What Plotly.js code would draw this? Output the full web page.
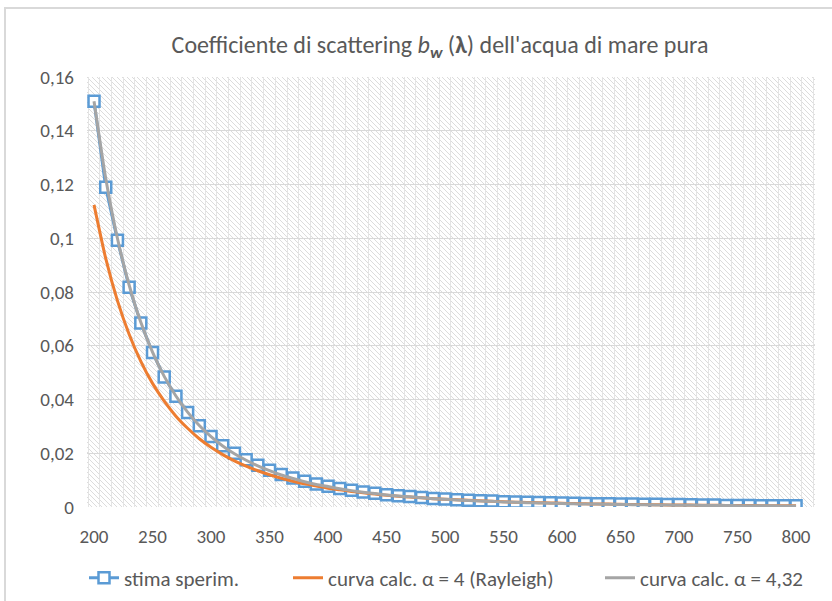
<!DOCTYPE html>
<html>
<head>
<meta charset="utf-8">
<script src="https://cdn.plot.ly/plotly-3.0.1.min.js"></script>
<style>
html,body{margin:0;padding:0;background:#fff;}
#wrap{position:relative;width:832px;height:601px;overflow:hidden;}
#chart{width:832px;height:601px;}
#frame{position:absolute;left:4px;top:7px;width:900px;height:700px;border:2px solid #d9d9d9;pointer-events:none;}
</style>
</head>
<body>
<div id="wrap"><div id="chart"></div><div id="frame"></div></div>
<script>
// wavelengths (nm)
const lambda = [200,210,220,230,240,250,260,270,280,290,300,310,320,330,340,350,360,370,380,390,
400,410,420,430,440,450,460,470,480,490,500,510,520,530,540,550,560,570,580,590,
600,610,620,630,640,650,660,670,680,690,700,710,720,730,740,750,760,770,780,790,800];

// stima sperimentale
const stima = [0.1510,0.1190,0.0993,0.0818,0.0685,0.0575,0.0484,0.0412,0.0352,0.0302,
0.0262,0.0228,0.0200,0.0176,0.0155,0.0137,0.0121,0.0108,0.0096,0.0086,
0.0077,0.0069,0.0062,0.0056,0.0051,0.0046,0.0042,0.0039,0.0035,0.0032,
0.0030,0.0027,0.0025,0.0023,0.0022,0.0020,0.0019,0.0018,0.0017,0.0016,
0.0015,0.0014,0.0013,0.0012,0.0012,0.0011,0.0011,0.0010,0.0010,0.0009,
0.0009,0.0008,0.0007,0.0007,0.0006,0.0006,0.0006,0.0005,0.0005,0.0005,0.0005];

// curva calc. alpha = 4 (Rayleigh)
const rayleigh = [0.1124,0.0925,0.0768,0.0643,0.0542,0.0460,0.0394,0.0338,0.0293,0.0254,
0.0222,0.0195,0.0172,0.0152,0.0135,0.0120,0.0107,0.0096,0.0086,0.0078,
0.0070,0.0064,0.0058,0.0053,0.0048,0.0044,0.0040,0.0037,0.0034,0.0031,
0.0029,0.0027,0.0025,0.0023,0.0021,0.0020,0.0018,0.0017,0.0016,0.0015,
0.0014,0.0013,0.0012,0.0011,0.0011,0.0010,0.00095,0.0009,0.00084,0.00079,
0.00075,0.00071,0.00067,0.00063,0.0006,0.00057,0.00054,0.00051,0.00049,0.00046,0.00044];

// curva calc. alpha = 4,32
const alpha432 = [0.1510,0.1223,0.1000,0.0826,0.0687,0.0576,0.0486,0.0413,0.0353,0.0303,
0.0262,0.0227,0.0198,0.0174,0.0153,0.0135,0.0119,0.0106,0.0094,0.0084,
0.0076,0.0068,0.0061,0.0055,0.0050,0.0045,0.0041,0.0038,0.0034,0.0031,
0.0029,0.0026,0.0024,0.0022,0.0021,0.0019,0.0018,0.0016,0.0015,0.0014,
0.0013,0.0012,0.0011,0.0011,0.0010,0.00093,0.00087,0.00082,0.00077,0.00072,
0.00067,0.00063,0.0006,0.00056,0.00053,0.0005,0.00047,0.00045,0.00042,0.0004,0.00038];

const seriesNames = ['stima sperim.','curva calc. \u03b1 = 4 (Rayleigh)','curva calc. \u03b1 = 4,32'];
const xTickVals = [200,250,300,350,400,450,500,550,600,650,700,750,800];
const yTickVals = [0,0.02,0.04,0.06,0.08,0.1,0.12,0.14,0.16];
const yTickText = ['0','0,02','0,04','0,06','0,08','0,1','0,12','0,14','0,16'];

const M = {l:87, r:17, t:77, b:94};
const W = 832, H = 601;
const pw = W - M.l - M.r, ph = H - M.t - M.b;

const hatch = "<svg xmlns='http://www.w3.org/2000/svg' width='"+pw+"' height='"+ph+"'>"+
 "<defs><pattern id='p' width='5' height='5' patternUnits='userSpaceOnUse'>"+
 "<path d='M-1,-1 L6,6 M-1,4 L1,6 M4,-1 L6,1' stroke='#dcdcdc' stroke-width='1'/></pattern></defs>"+
 "<rect width='100%' height='100%' fill='url(#p)'/></svg>";
const hatchURI = 'data:image/svg+xml;charset=utf-8,' + encodeURIComponent(hatch);

const FONT = 'Carlito, Lato, "Open Sans", sans-serif';
const LEGFONT = {family:FONT, size:21, color:'#595959'};

const traces = [
  {x: lambda, y: stima, name: seriesNames[0], type:'scatter', mode:'lines+markers', legend:'legend',
   line:{color:'#5B9BD5', width:3},
   marker:{symbol:'square', size:11, color:'#ffffff', line:{color:'#5B9BD5', width:2.5}}},
  {x: lambda, y: rayleigh, name: seriesNames[1], type:'scatter', mode:'lines', legend:'legend2',
   line:{color:'#ED7D31', width:3, shape:'spline', smoothing:0.6}},
  {x: lambda, y: alpha432, name: seriesNames[2], type:'scatter', mode:'lines', legend:'legend3',
   line:{color:'#A5A5A5', width:3, shape:'spline', smoothing:0.6}}
];

function leg(px){
  return {orientation:'h', x:px/W, xanchor:'left', xref:'container',
    y:1-578/H, yanchor:'middle', yref:'container', font:LEGFONT, bgcolor:'rgba(0,0,0,0)'};
}

const layout = {
  width: W, height: H,
  margin: M,
  paper_bgcolor:'#ffffff',
  plot_bgcolor:'rgba(0,0,0,0)',
  font:{family:FONT, size:19, color:'#595959'},
  separators:',.',
  title:{text:'Coefficiente di scattering <i>b</i><sub><b><i>w</i></b></sub> (<b>\u03bb</b>) dell\'acqua di mare pura',
    font:{family:FONT, size:24, color:'#595959'},
    x:440/832, xanchor:'center', xref:'container', y:1-45/601, yanchor:'middle', yref:'container'},
  xaxis:{range:[194,816.2], tickvals:xTickVals, showgrid:false, zeroline:false,
    showline:false, ticks:'', ticklabelstandoff:16, tickfont:{size:19},
    minor:{tick0:195, dtick:10, showgrid:true, gridcolor:'#e4e4e4', gridwidth:1}},
  yaxis:{range:[0,0.16], tickvals:yTickVals, ticktext:yTickText, showgrid:true, tickfont:{size:19},
    gridcolor:'#d9d9d9', gridwidth:1, zeroline:false, showline:false, ticks:'', ticklabelstandoff:12},
  showlegend:true,
  legend: leg(84),
  legend2: leg(288),
  legend3: leg(600),
  images:[{source:hatchURI, xref:'paper', yref:'paper', x:0, y:1, sizex:1, sizey:1,
    xanchor:'left', yanchor:'top', sizing:'stretch', layer:'below'}]
};

Plotly.newPlot('chart', traces, layout, {displayModeBar:false, staticPlot:true});
</script>
</body>
</html>
